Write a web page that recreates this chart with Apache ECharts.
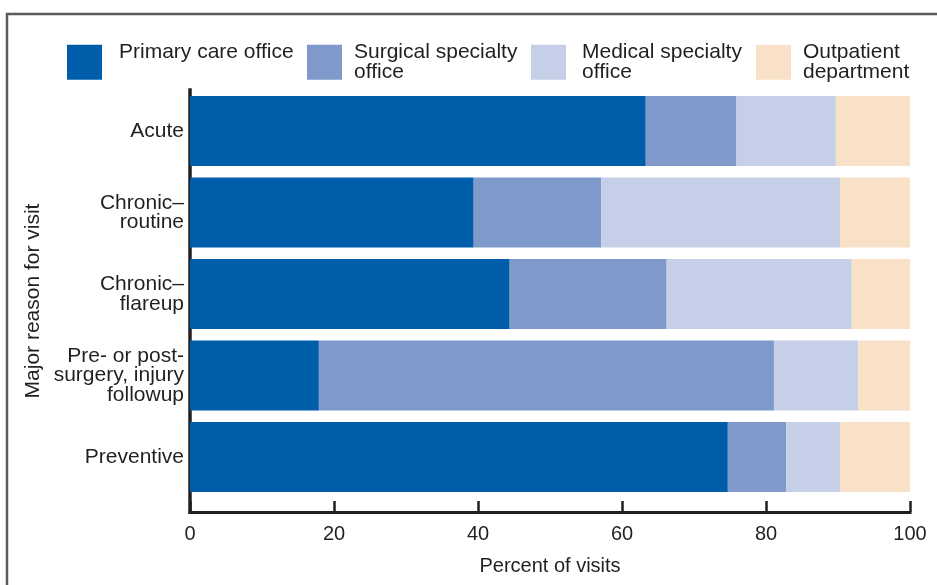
<!DOCTYPE html>
<html>
<head>
<meta charset="utf-8">
<script src="https://cdn.jsdelivr.net/npm/echarts@6/dist/echarts.min.js"></script>
<style>
html,body{margin:0;padding:0;background:#fff;}
#chart{width:937px;height:585px;}
</style>
</head>
<body>
<div id="chart"></div>
<script>
const categories = ['Acute', 'Chronic\u2013\nroutine', 'Chronic\u2013\nflareup', 'Pre- or post-\nsurgery, injury\nfollowup', 'Preventive'];
const seriesNames = ['Primary care office', 'Surgical specialty\noffice', 'Medical specialty\noffice', 'Outpatient\ndepartment'];
const primaryCare = [63.3, 39.4, 44.4, 17.9, 74.7];
const surgicalSpecialty = [12.6, 17.7, 21.8, 63.2, 8.1];
const medicalSpecialty = [13.8, 33.2, 25.7, 11.7, 7.5];
const outpatientDept = [10.3, 9.7, 8.1, 7.2, 9.7];
const xTicks = [0, 20, 40, 60, 80, 100];

const colors = ['#005daa', '#7f99ca', '#c5cfe8', '#f8e1c7'];
const values = [primaryCare, surgicalSpecialty, medicalSpecialty, outpatientDept];
const FONT = '"Liberation Sans", Arial, Helvetica, sans-serif';
const INK = '#231f20';

const chart = echarts.init(document.getElementById('chart'), null, {renderer: 'canvas'});

const legendLefts = [67, 307, 531, 756];
const legendPadLeft = [12, 7, 11, 7];
const legends = seriesNames.map((n, i) => ({
  data: [n],
  left: legendLefts[i],
  top: 42,
  padding: 0,
  orient: 'horizontal',
  itemWidth: 35,
  itemHeight: 35,
  icon: 'rect',
  selectedMode: false,
  formatter: (name) => (name.indexOf('\n') < 0 ? name + '\n ' : name),
  textStyle: {
    fontFamily: FONT, fontSize: 21, color: INK, lineHeight: 19.5,
    padding: [0, 0, 0, legendPadLeft[i]]
  }
}));

const option = {
  animation: false,
  backgroundColor: '#fff',
  textStyle: {fontFamily: FONT},
  color: colors,
  legend: legends,
  graphic: [{
    type: 'polyline',
    shape: {points: [[7, 590], [7, 14], [940, 14]]},
    style: {stroke: '#5a5a5a', lineWidth: 2.5, fill: null}
  }],
  grid: [
    {left: 190, width: 720, top: 90.25, height: 407.5},
    {left: 190, width: 720, top: 90, height: 422}
  ],
  xAxis: [
    {gridIndex: 0, type: 'value', min: 0, max: 100, show: false},
    {
      gridIndex: 1, type: 'value', min: xTicks[0], max: xTicks[xTicks.length - 1], interval: 20,
      axisLine: {show: true, lineStyle: {color: INK, width: 3, cap: 'square'}},
      axisTick: {show: true, inside: true, length: 11, lineStyle: {color: INK, width: 2.5}},
      axisLabel: {fontSize: 20, color: INK, margin: 12, fontFamily: FONT},
      splitLine: {show: false},
      name: 'Percent of visits', nameLocation: 'middle', nameGap: 44,
      nameTextStyle: {fontSize: 20, color: INK, fontFamily: FONT}
    }
  ],
  yAxis: [
    {
      gridIndex: 0, type: 'category', data: categories, inverse: true,
      axisLine: {show: false}, axisTick: {show: false},
      axisLabel: {fontSize: 21, color: INK, margin: 6, lineHeight: 19.5, fontFamily: FONT, align: 'right'}
    },
    {
      gridIndex: 1, type: 'value', min: 0, max: 1,
      axisLine: {show: true, lineStyle: {color: INK, width: 3.5, cap: 'square'}},
      axisTick: {show: false}, axisLabel: {show: false}, splitLine: {show: false},
      name: 'Major reason for visit', nameLocation: 'middle', nameGap: 146,
      nameTextStyle: {fontSize: 21, color: INK, fontFamily: FONT}
    }
  ],
  series: seriesNames.map((n, i) => ({
    name: n,
    type: 'bar',
    stack: 'total',
    xAxisIndex: 0,
    yAxisIndex: 0,
    barWidth: 70,
    data: values[i],
    itemStyle: {color: colors[i]}
  }))
};
chart.setOption(option);
</script>
</body>
</html>
